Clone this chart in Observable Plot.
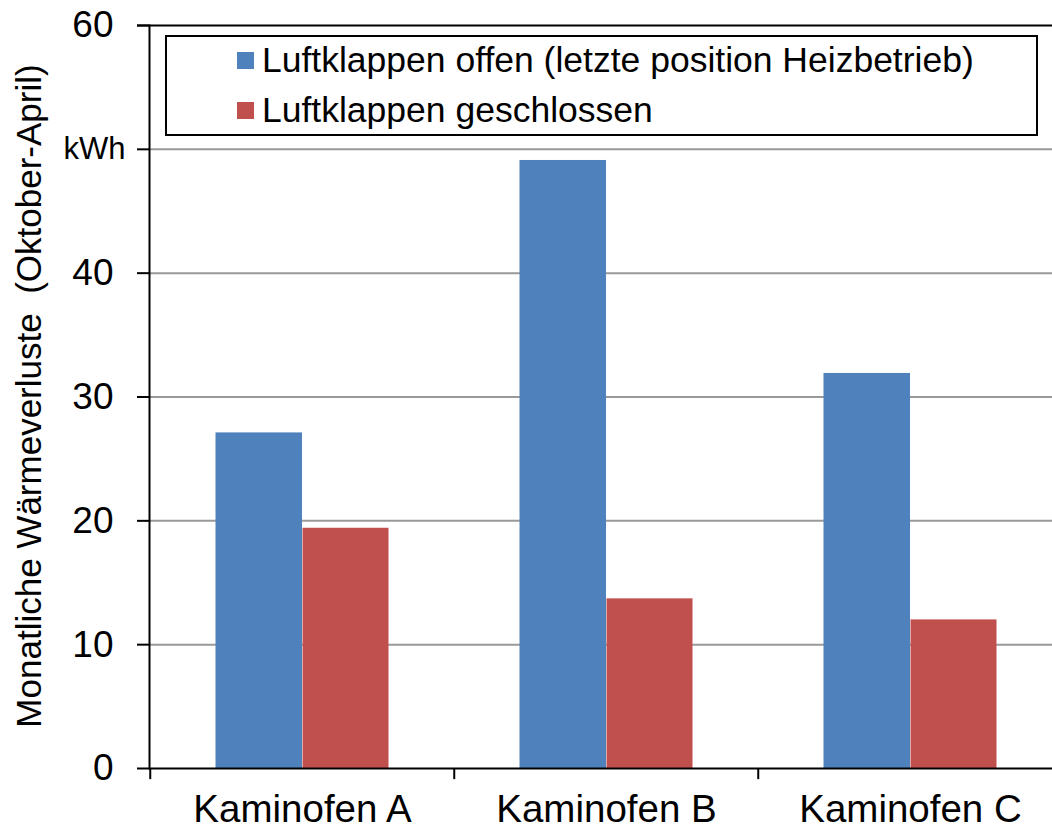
<!DOCTYPE html>
<html>
<head>
<meta charset="utf-8">
<script src="https://cdn.jsdelivr.net/npm/d3@7"></script>
<script src="https://cdn.jsdelivr.net/npm/@observablehq/plot@0.6"></script>
<style>
  html, body { margin: 0; padding: 0; background: #fff; }
  #wrap { position: relative; width: 1052px; height: 830px; overflow: hidden; font-family: Arial, "Liberation Sans", sans-serif; }
  #legend { position: absolute; left: 165px; top: 35px; width: 869px; height: 97px; border: 2px solid #000; background: #fff; }
  .item { position: absolute; left: 70px; height: 40px; display: flex; align-items: center; font-size: 35.5px; color: #000; white-space: nowrap; }
  .sw { width: 17px; height: 17px; margin-right: 8px; flex: none; }
</style>
</head>
<body>
<div id="wrap"></div>
<script>
const categories = ["Kaminofen A", "Kaminofen B", "Kaminofen C"];
const seriesNames = ["Luftklappen offen (letzte position Heizbetrieb)", "Luftklappen geschlossen"];
const offen = [27.1, 49.1, 31.9];
const geschlossen = [19.4, 13.7, 12.0];
const seriesColors = ["#4F81BD", "#C0504D"];
const yTicks = [0, 10, 20, 30, 40, 50, 60];
const yTickLabels = ["0", "10", "20", "30", "40", "kWh", "60"];
const yTitle = "Monatliche Wärmeverluste  (Oktober-April)";

const rows = categories.flatMap((c, i) => [
  {cat: c, series: seriesNames[0], value: offen[i]},
  {cat: c, series: seriesNames[1], value: geschlossen[i]}
]);
const tickRows = yTicks.map((t, i) => ({t, label: yTickLabels[i]}));

const chart = Plot.plot({
  width: 1052,
  height: 830,
  marginTop: 25,
  marginBottom: 62,
  marginLeft: 149,
  marginRight: 0,
  style: {fontFamily: "Arial, 'Liberation Sans', sans-serif", background: "#fff", color: "#000"},
  x: {domain: categories, range: [149, 1062], padding: 0},
  y: {domain: [0, 60]},
  color: {domain: seriesNames, range: seriesColors},
  marks: [
    Plot.ruleY(yTicks.filter(t => t > 0 && t < 60), {stroke: "#999", strokeWidth: 2}),
    Plot.ruleY([60], {stroke: "#000", strokeWidth: 2, insetLeft: -12}),
    Plot.barY(rows.filter(d => d.series === seriesNames[0]), {x: "cat", y: "value", fill: "series", insetLeft: 65.5, insetRight: 152}),
    Plot.barY(rows.filter(d => d.series === seriesNames[1]), {x: "cat", y: "value", fill: "series", insetLeft: 152.5, insetRight: 65.5}),
    Plot.ruleY([0], {stroke: "#000", strokeWidth: 2}),
    Plot.frame({anchor: "left", stroke: "#000", strokeWidth: 2}),
    Plot.ruleX(categories, {x: d => d, y1: 0, y2: -0.9, dx: -152.25, stroke: "#000", strokeWidth: 2}),
    Plot.axisY(yTicks, {tickSize: 12, tickFormat: () => "", strokeWidth: 2}),
    Plot.text(tickRows.filter(d => d.label !== "kWh"), {y: "t", text: "label", frameAnchor: "left", textAnchor: "end", dx: -36, fontSize: 37}),
    Plot.text(tickRows.filter(d => d.label === "kWh"), {y: "t", text: "label", frameAnchor: "left", textAnchor: "end", dx: -24, fontSize: 31}),
    Plot.axisX({tickSize: 0, tickPadding: 26, fontSize: 38.5, label: null}),
    Plot.text([yTitle], {frameAnchor: "left", textAnchor: "middle", dx: -120, dy: -1, rotate: -90, fontSize: 35})
  ]
});

const wrap = document.getElementById("wrap");
wrap.appendChild(chart);

const legend = document.createElement("div");
legend.id = "legend";
seriesNames.forEach((name, i) => {
  const item = document.createElement("div");
  item.className = "item";
  item.style.top = (i === 0 ? 3 : 53) + "px";
  const sw = document.createElement("span");
  sw.className = "sw";
  sw.style.background = seriesColors[i];
  const tx = document.createElement("span");
  tx.textContent = name;
  item.appendChild(sw);
  item.appendChild(tx);
  legend.appendChild(item);
});
wrap.appendChild(legend);
</script>
</body>
</html>
